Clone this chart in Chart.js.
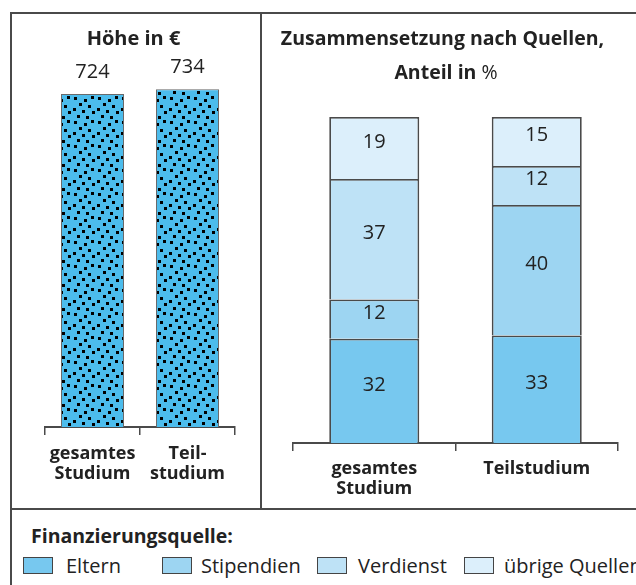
<!DOCTYPE html>
<html lang="de">
<head>
<meta charset="UTF-8">
<title>Finanzierung Studium</title>
<script src="https://cdn.jsdelivr.net/npm/chart.js@4.4.0/dist/chart.umd.min.js"></script>
<style>
  body { margin: 0; background: #fff; }
  #wrap { position: relative; width: 636px; height: 585px; overflow: hidden; font-family: "Open Sans", sans-serif; color: #222; }
  canvas { position: absolute; top: 0; }
  .line { position: absolute; background: #4a4a4a; }
  .txt { position: absolute; white-space: nowrap; line-height: 1; }
  .title { font-weight: bold; font-size: 19.5px; text-align: center; }
  .box { position: absolute; width: 28px; height: 15px; border: 1.5px solid #444; }
  .leg { font-size: 20px; }
</style>
</head>
<body>
<div id="wrap">
  <canvas id="left" width="261" height="509" style="left:0;width:261px;height:509px"></canvas>
  <canvas id="right" width="375" height="509" style="left:261px;width:375px;height:509px"></canvas>

  <div class="line" style="left:11px;top:12px;width:625px;height:2px"></div>
  <div class="line" style="left:10px;top:12px;width:2px;height:573px"></div>
  <div class="line" style="left:260px;top:12px;width:2px;height:497px"></div>
  <div class="line" style="left:10px;top:508px;width:626px;height:2px"></div>

  <div class="txt title" style="left:0;width:267px;top:28px;font-size:20px">Höhe in €</div>
  <div class="txt title" style="left:261px;width:363px;top:28px">Zusammensetzung nach Quellen,</div>
  <div class="txt title" style="left:261px;width:370px;top:62px">Anteil in <span style="font-weight:normal">%</span></div>

  <div class="txt" style="left:31px;top:526px;font-weight:bold;font-size:19.5px">Finanzierungsquelle:</div>
  <div id="legend"></div>
</div>
<script>
// data
const leftCategories = [['gesamtes', 'Studium'], ['Teil-', 'studium']];
const amounts = [724, 734];

const rightCategories = [['gesamtes', 'Studium'], 'Teilstudium'];
const sources = ['Eltern', 'Stipendien', 'Verdienst', 'übrige Quellen'];
const eltern = [32, 33];
const stipendien = [12, 40];
const verdienst = [37, 12];
const uebrige = [19, 15];

const colors = ['#77c8ef', '#9dd5f2', '#bee2f6', '#dceffb'];
const fontFamily = '"Open Sans", sans-serif';

// dotted fill for the left bars
function dotPattern() {
  const c = document.createElement('canvas');
  c.width = 24; c.height = 24;
  const g = c.getContext('2d');
  g.fillStyle = '#4cbcec';
  g.fillRect(0, 0, 24, 24);
  g.fillStyle = '#000';
  [[2,1],[12,3],[19,0],[7,7],[16,9],[1,12],[10,14],[20,15],[5,19],[14,20]].forEach(p => g.fillRect(p[0], p[1], 3, 3));
  return g.createPattern(c, 'repeat');
}

const valueLabels = {
  id: 'valueLabels',
  afterDatasetsDraw(chart, args, opts) {
    const ctx = chart.ctx;
    ctx.save();
    ctx.font = '20px ' + fontFamily;
    ctx.fillStyle = '#222';
    ctx.textAlign = 'center';
    ctx.textBaseline = 'middle';
    chart.data.datasets.forEach((ds, i) => {
      chart.getDatasetMeta(i).data.forEach((bar, j) => {
        const y = opts.above ? bar.y - 22 : (bar.y + bar.base) / 2 - 6;
        ctx.fillText(ds.data[j], bar.x, y);
      });
    });
    ctx.restore();
  }
};

function xAxis(height, pad) {
  return {
    stacked: true,
    grid: { display: true, offset: true, drawOnChartArea: false, drawTicks: true, tickLength: 8, color: '#4a4a4a', lineWidth: 1.5 },
    border: { display: true, color: '#4a4a4a', width: 2 },
    ticks: { color: '#222', padding: pad, maxRotation: 0, autoSkip: false, font: { family: fontFamily, size: 18, weight: 'bold', lineHeight: 1.1 } },
    afterFit: s => { s.height = height; }
  };
}

new Chart(document.getElementById('left'), {
  type: 'bar',
  data: {
    labels: leftCategories,
    datasets: [{
      data: amounts,
      backgroundColor: dotPattern(),
      borderColor: '#6a6a6a',
      borderWidth: 1,
      barPercentage: 0.663,
      categoryPercentage: 1
    }]
  },
  options: {
    responsive: false,
    animation: false,
    layout: { padding: { left: 45, right: 26, top: 13, bottom: 0 } },
    plugins: { legend: { display: false }, tooltip: { enabled: false }, valueLabels: { above: true } },
    scales: {
      x: xAxis(82, 9),
      y: { display: false, min: 0, max: 900 }
    }
  },
  plugins: [valueLabels]
});

const series = [eltern, stipendien, verdienst, uebrige];
new Chart(document.getElementById('right'), {
  type: 'bar',
  data: {
    labels: rightCategories,
    datasets: series.map((d, i) => ({
      label: sources[i],
      data: d,
      backgroundColor: colors[i],
      borderColor: '#4a4a4a',
      borderWidth: 1.8,
      barPercentage: 0.554,
      categoryPercentage: 1
    }))
  },
  options: {
    responsive: false,
    animation: false,
    layout: { padding: { left: 32, right: 18, top: 117, bottom: 0 } },
    plugins: { legend: { display: false }, tooltip: { enabled: false }, valueLabels: { above: false } },
    scales: {
      x: xAxis(66, 8),
      y: { display: false, stacked: true, min: 0, max: 100 }
    }
  },
  plugins: [valueLabels]
});

// legend
const legendPos = [[23, 66], [162, 201], [317, 358], [464, 504]];
const leg = document.getElementById('legend');
sources.forEach((s, i) => {
  const b = document.createElement('div');
  b.className = 'box';
  b.style.left = legendPos[i][0] + 'px';
  b.style.top = '557px';
  b.style.background = colors[i];
  leg.appendChild(b);
  const t = document.createElement('div');
  t.className = 'txt leg';
  t.style.left = legendPos[i][1] + 'px';
  t.style.top = '556px';
  t.textContent = s;
  leg.appendChild(t);
});
</script>
</body>
</html>
